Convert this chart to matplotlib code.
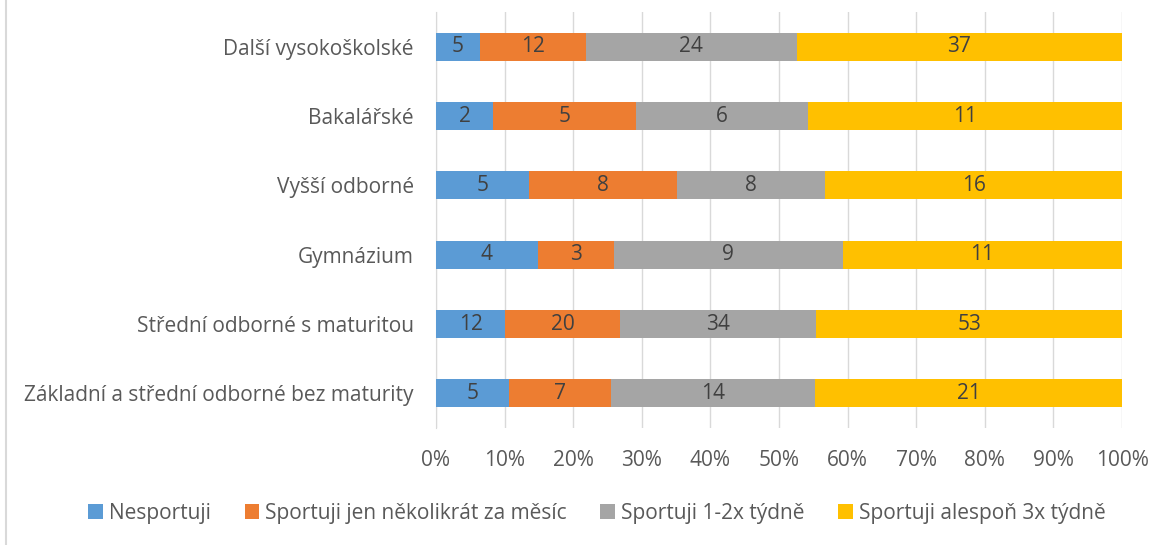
import matplotlib.pyplot as plt
from matplotlib.lines import Line2D
import numpy as np

plt.rcParams['font.family'] = ['Open Sans', 'DejaVu Sans']

# categories, bottom to top
categories = ['Základní a střední odborné bez maturity', 'Střední odborné s maturitou',
              'Gymnázium', 'Vyšší odborné', 'Bakalářské', 'Další vysokoškolské']
series = ['Nesportuji', 'Sportuji jen několikrát za měsíc', 'Sportuji 1-2x týdně',
          'Sportuji alespoň 3x týdně']
nesportuji = [5, 12, 4, 5, 2, 5]
mesic = [7, 20, 3, 8, 5, 12]
tydne12 = [14, 34, 9, 8, 6, 24]
tydne3 = [21, 53, 11, 16, 11, 37]
colors = ['#5B9BD5', '#ED7D31', '#A5A5A5', '#FFC000']

txt = '#595959'
fs = 15
data = np.array([nesportuji, mesic, tydne12, tydne3], dtype=float)
shares = data / data.sum(axis=0)

fig = plt.figure(figsize=(11.67, 5.45), dpi=100)
ax = fig.add_axes([436/1167, 1-428/545, 686/1167, 416/545])

y = np.arange(len(categories))
left = np.zeros(len(categories))
for i in range(4):
    bars = ax.barh(y, shares[i], left=left, height=0.4, color=colors[i], label=series[i], zorder=3)
    ax.bar_label(bars, labels=[str(v) for v in data[i].astype(int)], label_type='center',
                 color='#404040', fontsize=fs)
    left += shares[i]

ax.set_xlim(0, 1)
ax.set_ylim(-0.5, 5.5)
ax.set_xticks(np.linspace(0, 1, 11))
ax.set_xticklabels([f'{v}%' for v in range(0, 101, 10)])
ax.set_yticks(y)
ax.set_yticklabels(categories)
ax.tick_params(axis='both', length=0, labelsize=fs, colors=txt)
ax.tick_params(axis='y', pad=16)
ax.tick_params(axis='x', pad=16)
ax.grid(axis='x', color='#D9D9D9', linewidth=1, zorder=0)
for s in ['top', 'right', 'bottom']:
    ax.spines[s].set_visible(False)
ax.spines['left'].set_color('#D9D9D9')

fig.legend(loc='center', bbox_to_anchor=(597/1167, 1-513/545), ncol=4, frameon=False,
           fontsize=fs, labelcolor=txt, handlelength=0.7, handleheight=0.7,
           handletextpad=0.3, columnspacing=1.6)

fig.add_artist(Line2D([6/1167, 6/1167], [0, 1], transform=fig.transFigure, color='#D9D9D9', lw=1.5))

fig.savefig('out.png', dpi=100)
